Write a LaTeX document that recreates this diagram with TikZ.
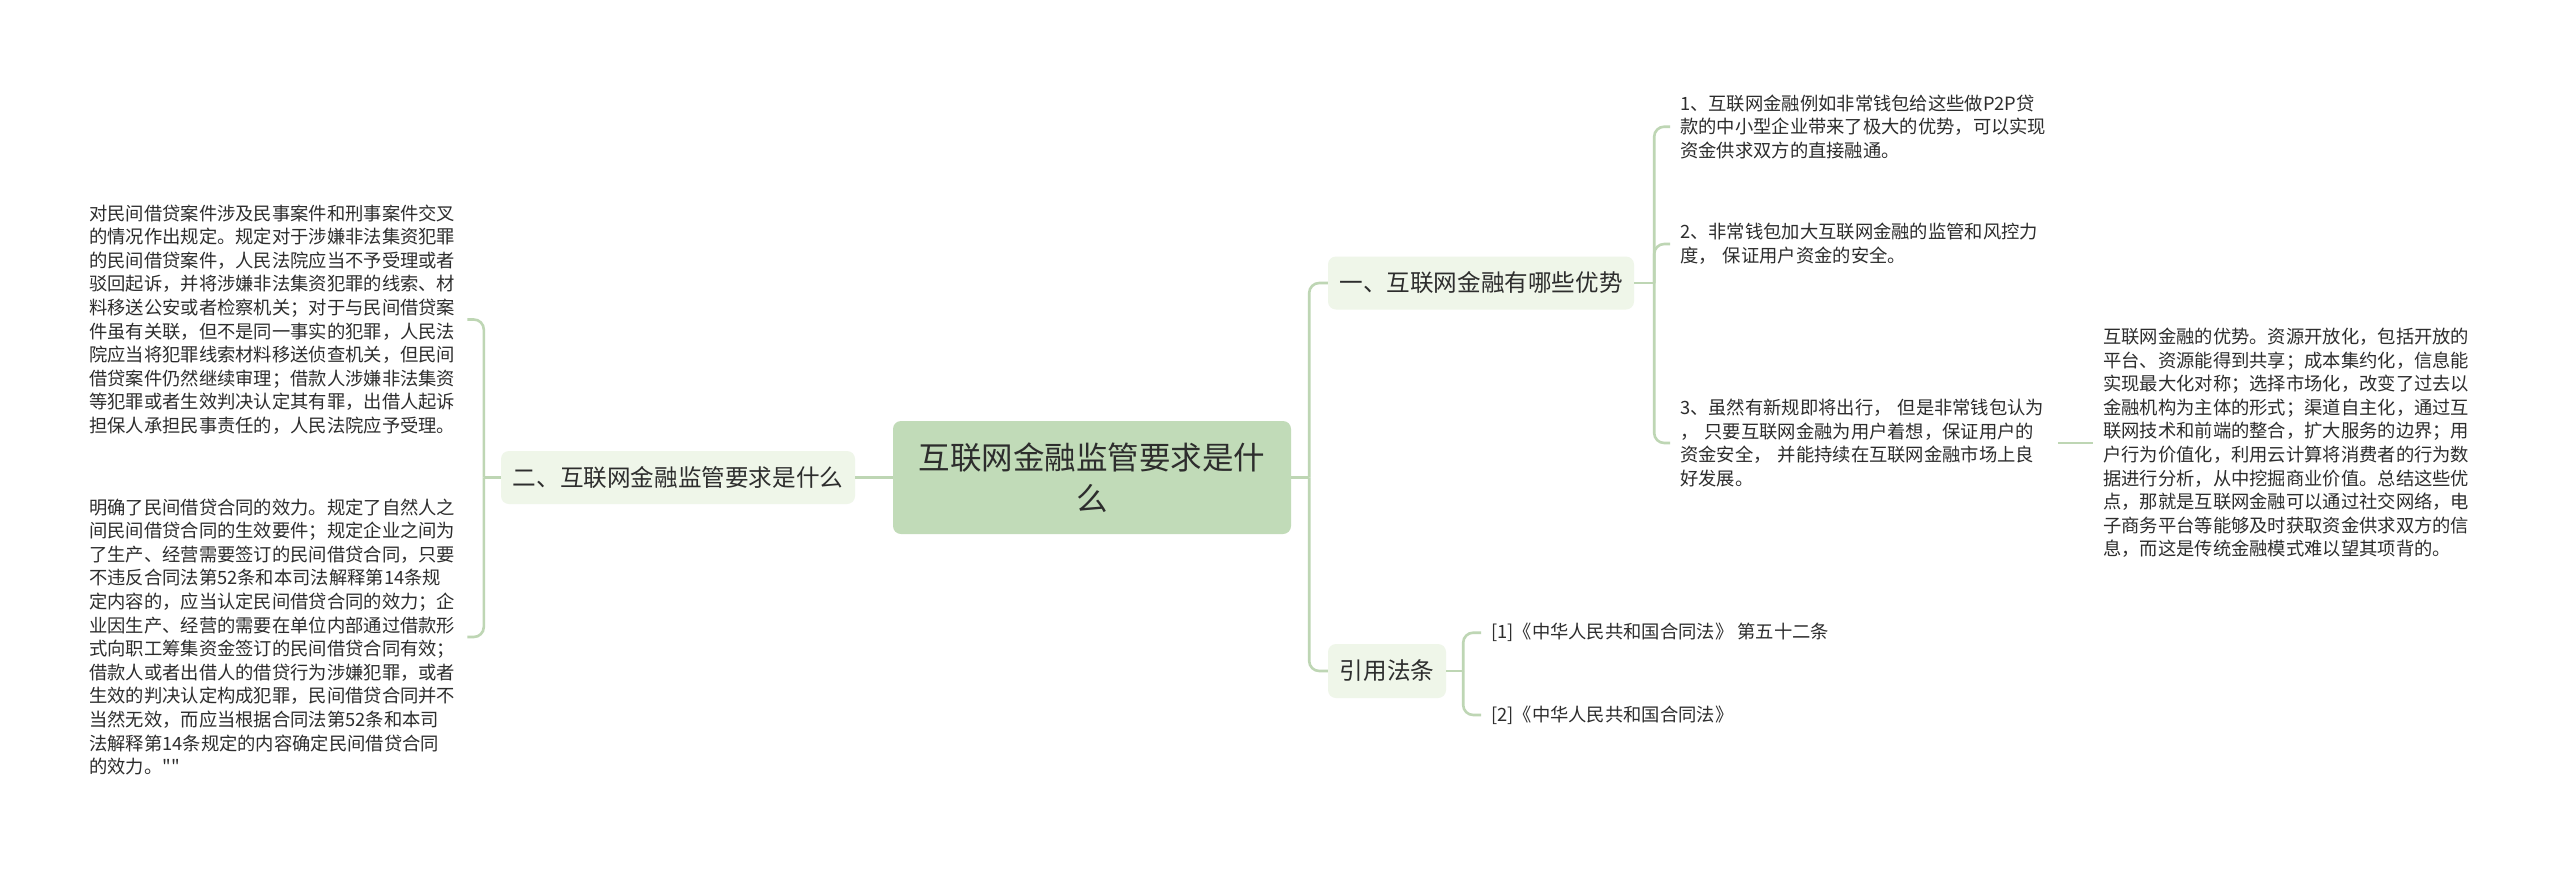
\documentclass[tikz,border=0pt]{standalone}
\usepackage{fontspec}
\setmainfont{Noto Sans CJK SC}
\newfontfamily\cjkf{Noto Sans CJK SC}
\usetikzlibrary{calc}
\definecolor{linec}{RGB}{190,214,180}
\definecolor{rootc}{RGB}{193,219,184}
\definecolor{subc}{RGB}{239,246,233}
\definecolor{txt}{RGB}{45,45,45}
\begin{document}
\begin{tikzpicture}[x=1pt,y=-1pt,
  conn/.style={draw=linec, line width=2.6pt, rounded corners=10pt},
  rootbox/.style={fill=rootc, rounded corners=8pt, minimum width=398pt, minimum height=113pt, align=center, text=txt, font=\cjkf\fontsize{31.5}{41}\selectfont, inner sep=0pt},
  subbox/.style={fill=subc, rounded corners=8pt, minimum height=53pt, text=txt, font=\cjkf\fontsize{23.6}{28}\selectfont, inner sep=0pt},
  leaf/.style={text=txt, font=\cjkf\fontsize{18.3}{23.6}\selectfont, align=left, text width=368pt, inner xsep=10pt, inner ysep=0pt, anchor=west},
  refleaf/.style={text=txt, font=\cjkf\fontsize{18.3}{23.6}\selectfont, inner xsep=10pt, inner ysep=0pt, anchor=west}
]
\fill[white] (0,0) rectangle (2560,868);
\path[use as bounding box] (0,0) rectangle (2560,868);

% root
\node[rootbox] (C) at (1092,477.5) {互联网金融监管要求是什\\么};

% first level
\node[subbox, minimum width=354pt] (L) at (678,477.5) {二、互联网金融监管要求是什么};
\node[subbox, minimum width=306pt] (N1) at (1481,283) {一、互联网金融有哪些优势};
\node[subbox, minimum width=118pt, minimum height=54pt] (N2) at (1387,671) {引用法条};

% left leaves
\node[leaf] (T1) at (79,319.5) {对民间借贷案件涉及民事案件和刑事案件交叉\\的情况作出规定。规定对于涉嫌非法集资犯罪\\的民间借贷案件，人民法院应当不予受理或者\\驳回起诉，并将涉嫌非法集资犯罪的线索、材\\料移送公安或者检察机关；对于与民间借贷案\\件虽有关联，但不是同一事实的犯罪，人民法\\院应当将犯罪线索材料移送侦查机关，但民间\\借贷案件仍然继续审理；借款人涉嫌非法集资\\等犯罪或者生效判决认定其有罪，出借人起诉\\担保人承担民事责任的，人民法院应予受理。};
\node[leaf] (T2) at (79,637) {明确了民间借贷合同的效力。规定了自然人之\\间民间借贷合同的生效要件；规定企业之间为\\了生产、经营需要签订的民间借贷合同，只要\\不违反合同法第52条和本司法解释第14条规\\定内容的，应当认定民间借贷合同的效力；企\\业因生产、经营的需要在单位内部通过借款形\\式向职工筹集资金签订的民间借贷合同有效；\\借款人或者出借人的借贷行为涉嫌犯罪，或者\\生效的判决认定构成犯罪，民间借贷合同并不\\当然无效，而应当根据合同法第52条和本司\\法解释第14条规定的内容确定民间借贷合同\\的效力。""};

% right leaves
\node[leaf] (A1) at (1670,126.7) {1、互联网金融例如非常钱包给这些做P2P贷\\款的中小型企业带来了极大的优势，可以实现\\资金供求双方的直接融通。};
\node[leaf] (A2) at (1670,244) {2、非常钱包加大互联网金融的监管和风控力\\度， 保证用户资金的安全。};
\node[leaf] (A3) at (1670,443) {3、虽然有新规即将出行， 但是非常钱包认为\\， 只要互联网金融为用户着想，保证用户的\\资金安全， 并能持续在互联网金融市场上良\\好发展。};
\node[leaf] (D) at (2093,443) {互联网金融的优势。资源开放化，包括开放的\\平台、资源能得到共享；成本集约化，信息能\\实现最大化对称；选择市场化，改变了过去以\\金融机构为主体的形式；渠道自主化，通过互\\联网技术和前端的整合，扩大服务的边界；用\\户行为价值化，利用云计算将消费者的行为数\\据进行分析，从中挖掘商业价值。总结这些优\\点，那就是互联网金融可以通过社交网络，电\\子商务平台等能够及时获取资金供求双方的信\\息，而这是传统金融模式难以望其项背的。};
\node[refleaf] (R1) at (1481,632.7) {[1]《中华人民共和国合同法》 第五十二条};
\node[refleaf] (R2) at (1481,715) {[2]《中华人民共和国合同法》};

% connectors
\coordinate (jr) at ($(C.east)+(18,0)$);
\draw[conn] (C.east) -- (jr);
\draw[conn] (jr) |- (N1.west);
\draw[conn] (jr) |- (N2.west);

\draw[conn] (C.west) -- (L.east);
\coordinate (jl) at ($(L.west)+(-17,0)$);
\draw[conn] (L.west) -- (jl);
\draw[conn] (jl) |- (T1.east);
\draw[conn] (jl) |- (T2.east);

\coordinate (j1) at ($(N1.east)+(20,0)$);
\draw[conn] (N1.east) -- (j1);
\draw[conn] (j1) |- (A1.west);
\draw[conn] (j1) |- (A2.west);
\draw[conn] (j1) |- (A3.west);
\draw[conn] (A3.east) -- (D.west);

\coordinate (j2) at ($(N2.east)+(17,0)$);
\draw[conn] (N2.east) -- (j2);
\draw[conn] (j2) |- (R1.west);
\draw[conn] (j2) |- (R2.west);
\end{tikzpicture}
\end{document}
